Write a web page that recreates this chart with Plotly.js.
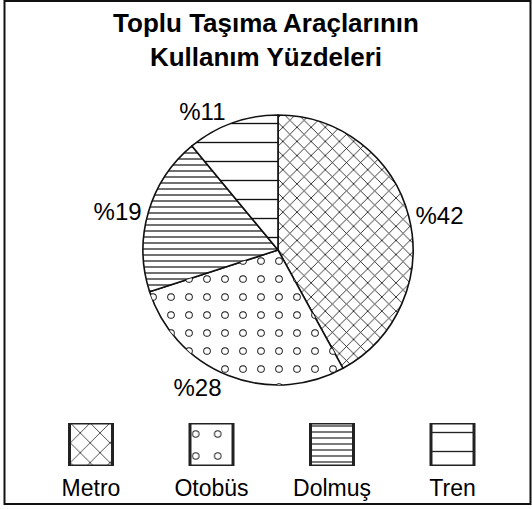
<!DOCTYPE html>
<html>
<head>
<meta charset="utf-8">
<script src="https://cdn.plot.ly/plotly-3.0.1.min.js"></script>
<style>html,body{margin:0;padding:0;background:#fff}#chart{width:532px;height:509px}</style>
</head>
<body>
<div id="chart"></div>
<script>
var title = 'Toplu Taşıma Araçlarının<br>Kullanım Yüzdeleri';
var categories = ['Metro', 'Otobüs', 'Dolmuş', 'Tren'];
var percents = [42, 28, 19, 11];
var labelTexts = percents.map(function (v) { return '%' + v; });

var FONT = 'Liberation Sans, Arial, sans-serif';
var pieDomain = {x: [0.2688, 0.7763], y: [0.2436, 0.7741]};

var pieMain = {
  type: 'pie',
  labels: categories,
  values: percents,
  text: labelTexts,
  textinfo: 'text',
  textposition: 'outside',
  outsidetextfont: {family: FONT, size: 24, color: '#000'},
  sort: false,
  direction: 'clockwise',
  rotation: 0,
  domain: pieDomain,
  showlegend: false,
  hoverinfo: 'skip',
  marker: {
    colors: ['#fff', '#fff', '#fff', '#fff'],
    line: {color: '#111', width: 1.6},
    pattern: {
      shape: ['x', '.', '-', '-'],
      size: [10, 18, 6, 19],
      solidity: [0.16, 0.14, 0.2, 0.07],
      fgcolor: '#111',
      bgcolor: '#fff',
      fillmode: 'replace'
    }
  }
};

var pieHoles = {
  type: 'pie',
  labels: categories,
  values: percents,
  textinfo: 'none',
  sort: false,
  direction: 'clockwise',
  rotation: 0,
  domain: pieDomain,
  showlegend: false,
  hoverinfo: 'skip',
  marker: {
    colors: ['rgba(0,0,0,0)', 'rgba(0,0,0,0)', 'rgba(0,0,0,0)', 'rgba(0,0,0,0)'],
    line: {width: 0},
    pattern: {
      shape: ['', '.', '', ''],
      size: 18,
      solidity: 0.08,
      fgcolor: '#fff',
      bgcolor: 'rgba(0,0,0,0)',
      fillmode: 'replace'
    }
  }
};

var legendBoxes = {
  type: 'bar',
  x: categories,
  y: categories.map(function () { return 1; }),
  xaxis: 'x', yaxis: 'y',
  width: 0.357,
  showlegend: false,
  hoverinfo: 'skip',
  marker: {
    color: '#fff',
    line: {color: '#222', width: 3},
    pattern: {
      shape: ['x', '.', '-', '-'],
      size: [14, 22, 6, 19],
      solidity: [0.11, 0.09, 0.2, 0.07],
      fgcolor: '#222',
      bgcolor: '#fff',
      fillmode: 'replace'
    }
  }
};

var legendHoles = {
  type: 'bar',
  x: categories,
  y: categories.map(function () { return 1; }),
  xaxis: 'x', yaxis: 'y',
  width: 0.357,
  showlegend: false,
  hoverinfo: 'skip',
  marker: {
    color: 'rgba(0,0,0,0)',
    line: {width: 0},
    pattern: {
      shape: ['', '.', '', ''],
      size: 22,
      solidity: 0.05,
      fgcolor: '#fff',
      bgcolor: 'rgba(0,0,0,0)',
      fillmode: 'replace'
    }
  }
};

var layout = {
  width: 532, height: 509,
  margin: {l: 0, r: 0, t: 0, b: 0},
  paper_bgcolor: '#fff',
  plot_bgcolor: 'rgba(0,0,0,0)',
  font: {family: FONT, color: '#000'},
  title: {
    text: title,
    font: {family: FONT, size: 26, color: '#000', weight: 'bold'},
    x: 0.5, xanchor: 'center',
    y: 0.937, yanchor: 'top', yref: 'container'
  },
  barmode: 'overlay',
  xaxis: {
    domain: [30.75 / 532, 512.75 / 532],
    showgrid: false, zeroline: false, showline: false,
    ticks: '', tickfont: {family: FONT, size: 23, color: '#000'},
    ticklabelstandoff: 6,
    fixedrange: true
  },
  yaxis: {
    domain: [43 / 509, 86 / 509],
    range: [0, 1],
    visible: false,
    fixedrange: true
  },
  shapes: [{
    type: 'rect', xref: 'paper', yref: 'paper',
    x0: 4.5 / 532, x1: 530.5 / 532, y0: 5 / 509, y1: 508 / 509,
    line: {color: '#111', width: 2}, fillcolor: 'rgba(0,0,0,0)'
  }]
};

Plotly.newPlot('chart', [pieMain, pieHoles, legendBoxes, legendHoles], layout, {displayModeBar: false, staticPlot: true});
</script>
</body>
</html>
